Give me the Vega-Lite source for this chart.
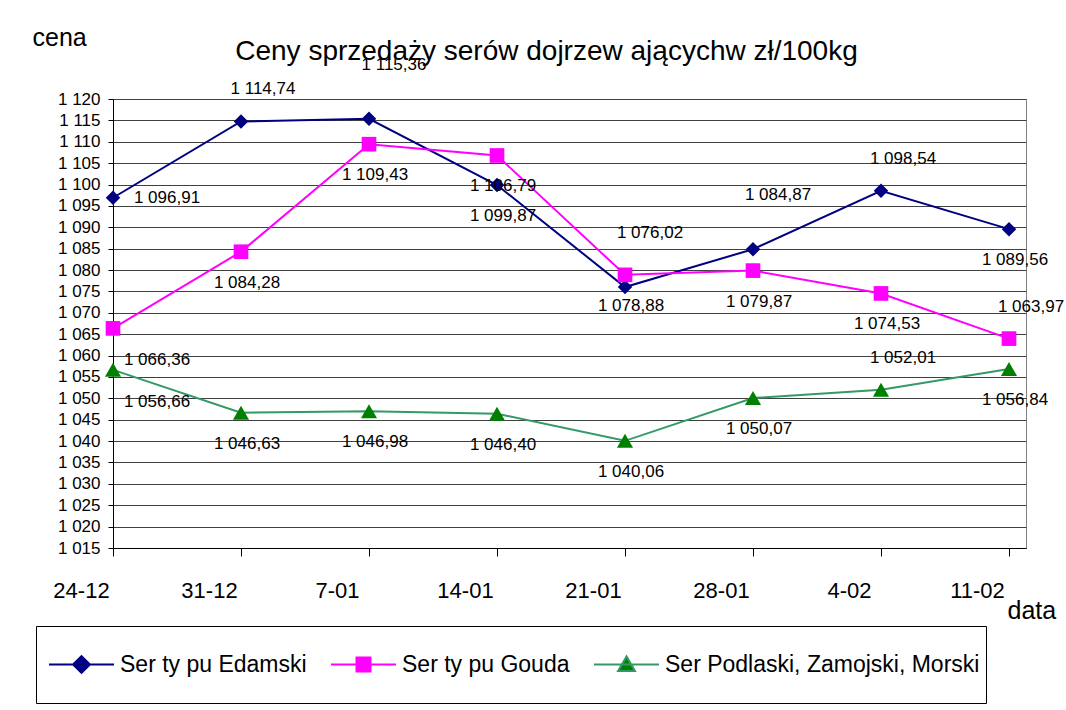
{
  "$schema": "https://vega.github.io/schema/vega-lite/v6.json",
  "width": 913,
  "height": 449,
  "autosize": {"type": "none"},
  "padding": {"left": 113, "top": 99, "right": 40, "bottom": 162},
  "background": "white",
  "config": {
    "font": "Liberation Sans",
    "locale": {"number": {"decimal": ",", "thousands": " ", "grouping": [3], "currency": ["", ""]}},
    "view": {"stroke": "#808080", "strokeWidth": 1}
  },
  "title": {
    "text": "Ceny sprzedaży serów  dojrzew ającychw  zł/100kg",
    "fontSize": 28,
    "fontWeight": "normal",
    "color": "black",
    "anchor": "middle",
    "frame": "group",
    "dx": -23,
    "dy": 63,
    "baseline": "alphabetic",
    "offset": 0
  },
  "data": {
    "values": [
      {"date": "24-12", "series": "Ser ty pu Edamski", "value": 1096.91},
      {"date": "31-12", "series": "Ser ty pu Edamski", "value": 1114.74},
      {"date": "7-01", "series": "Ser ty pu Edamski", "value": 1115.36},
      {"date": "14-01", "series": "Ser ty pu Edamski", "value": 1099.87},
      {"date": "21-01", "series": "Ser ty pu Edamski", "value": 1076.02},
      {"date": "28-01", "series": "Ser ty pu Edamski", "value": 1084.87},
      {"date": "4-02", "series": "Ser ty pu Edamski", "value": 1098.54},
      {"date": "11-02", "series": "Ser ty pu Edamski", "value": 1089.56},
      {"date": "24-12", "series": "Ser ty pu Gouda", "value": 1066.36},
      {"date": "31-12", "series": "Ser ty pu Gouda", "value": 1084.28},
      {"date": "7-01", "series": "Ser ty pu Gouda", "value": 1109.43},
      {"date": "14-01", "series": "Ser ty pu Gouda", "value": 1106.79},
      {"date": "21-01", "series": "Ser ty pu Gouda", "value": 1078.88},
      {"date": "28-01", "series": "Ser ty pu Gouda", "value": 1079.87},
      {"date": "4-02", "series": "Ser ty pu Gouda", "value": 1074.53},
      {"date": "11-02", "series": "Ser ty pu Gouda", "value": 1063.97},
      {"date": "24-12", "series": "Ser Podlaski, Zamojski, Morski", "value": 1056.66},
      {"date": "31-12", "series": "Ser Podlaski, Zamojski, Morski", "value": 1046.63},
      {"date": "7-01", "series": "Ser Podlaski, Zamojski, Morski", "value": 1046.98},
      {"date": "14-01", "series": "Ser Podlaski, Zamojski, Morski", "value": 1046.40},
      {"date": "21-01", "series": "Ser Podlaski, Zamojski, Morski", "value": 1040.06},
      {"date": "28-01", "series": "Ser Podlaski, Zamojski, Morski", "value": 1050.07},
      {"date": "4-02", "series": "Ser Podlaski, Zamojski, Morski", "value": 1052.01},
      {"date": "11-02", "series": "Ser Podlaski, Zamojski, Morski", "value": 1056.84}
    ]
  },
  "encoding": {
    "x": {
      "field": "date",
      "type": "ordinal",
      "scale": {"type": "point", "domain": ["24-12", "31-12", "7-01", "14-01", "21-01", "28-01", "4-02", "11-02"], "padding": 0.0664, "align": 0},
      "axis": {
        "title": "data",
        "titleX": 894,
        "titleY": 70,
        "titleAlign": "left",
        "titleBaseline": "alphabetic",
        "titleFontSize": 25,
        "titleFontWeight": "normal",
        "titleColor": "black",
        "labelAngle": 0,
        "labelFontSize": 22,
        "labelColor": "black",
        "labelBaseline": "alphabetic",
        "labelPadding": 41,
        "labelOffset": -32,
        "labelFlush": false,
        "labelOverlap": false,
        "tickSize": 8,
        "tickColor": "black",
        "domainColor": "black",
        "grid": false
      }
    },
    "y": {
      "field": "value",
      "type": "quantitative",
      "scale": {"domain": [1015, 1120], "nice": false, "zero": false},
      "axis": {
        "title": "cena",
        "titleAngle": 0,
        "titleX": -81,
        "titleY": -54,
        "titleAlign": "left",
        "titleBaseline": "alphabetic",
        "titleFontSize": 25,
        "titleFontWeight": "normal",
        "titleColor": "black",
        "values": [1015, 1020, 1025, 1030, 1035, 1040, 1045, 1050, 1055, 1060, 1065, 1070, 1075, 1080, 1085, 1090, 1095, 1100, 1105, 1110, 1115, 1120],
        "format": ",d",
        "labelFontSize": 17,
        "labelColor": "black",
        "labelPadding": 8,
        "labelFlush": false,
        "labelOverlap": false,
        "tickSize": 5,
        "tickColor": "black",
        "domainColor": "black",
        "grid": true,
        "gridColor": "#404040",
        "gridOpacity": 1
      }
    }
  },
  "layer": [
    {
      "mark": {"type": "line", "strokeWidth": 2},
      "encoding": {
        "stroke": {
          "field": "series",
          "type": "nominal",
          "scale": {"domain": ["Ser ty pu Edamski", "Ser ty pu Gouda", "Ser Podlaski, Zamojski, Morski"], "range": ["#000080", "#FF00FF", "#339966"]},
          "legend": {
            "orient": "none",
            "legendX": -77,
            "legendY": 527,
            "direction": "horizontal",
            "columns": 3,
            "title": null,
            "strokeColor": "black",
            "fillColor": "white",
            "padding": 6,
            "clipHeight": 65,
            "symbolSize": 4225,
            "symbolOffset": 6,
            "symbolStrokeWidth": 2,
            "labelOffset": 5,
            "columnPadding": 17,
            "labelFontSize": 23,
            "labelColor": "black",
            "labelLimit": 500,
            "encode": {
              "symbols": {
                "update": {
                  "shape": {"signal": "datum.value === 'Ser ty pu Edamski' ? 'M-1,0H1M-0.26,0L0,-0.26L0.26,0L0,0.26Z' : datum.value === 'Ser ty pu Gouda' ? 'M-1,0H1M-0.215,-0.215H0.215V0.215H-0.215Z' : 'M-1,0H1M0,-0.25L0.26,0.2L-0.26,0.2Z'"},
                  "fill": {"signal": "datum.value === 'Ser ty pu Edamski' ? '#000080' : datum.value === 'Ser ty pu Gouda' ? '#FF00FF' : '#008000'"}
                }
              }
            }
          }
        }
      }
    },
    {
      "transform": [{"filter": "datum.series === 'Ser ty pu Edamski'"}],
      "mark": {"type": "point", "shape": "diamond", "filled": true, "fill": "#000080", "opacity": 1, "strokeWidth": 0, "size": 210},
      "encoding": {}
    },
    {
      "transform": [{"filter": "datum.series === 'Ser ty pu Gouda'"}],
      "mark": {"type": "point", "shape": "square", "filled": true, "fill": "#FF00FF", "opacity": 1, "strokeWidth": 0, "size": 215},
      "encoding": {}
    },
    {
      "transform": [{"filter": "datum.series === 'Ser Podlaski, Zamojski, Morski'"}],
      "mark": {"type": "point", "shape": "triangle-up", "filled": true, "fill": "#008000", "opacity": 1, "strokeWidth": 0, "size": 260},
      "encoding": {}
    },
    {
      "transform": [{"filter": "datum.series === 'Ser ty pu Edamski' && indexof(['7-01', '21-01', '28-01'], datum.date) >= 0"}],
      "mark": {"type": "text", "fontSize": 17, "color": "black", "align": "center", "baseline": "middle", "dx": 25, "dy": -54},
      "encoding": {"text": {"field": "value", "type": "quantitative", "format": ",.2f"}}
    },
    {
      "transform": [{"filter": "(datum.series === 'Ser ty pu Edamski' && indexof(['31-12', '4-02'], datum.date) >= 0) || (datum.series === 'Ser ty pu Gouda' && datum.date === '11-02') || (datum.series === 'Ser Podlaski, Zamojski, Morski' && datum.date === '4-02')"}],
      "mark": {"type": "text", "fontSize": 17, "color": "black", "align": "center", "baseline": "middle", "dx": 22, "dy": -32},
      "encoding": {"text": {"field": "value", "type": "quantitative", "format": ",.2f"}}
    },
    {
      "transform": [{"filter": "datum.series === 'Ser ty pu Edamski' && datum.date === '24-12'"}],
      "mark": {"type": "text", "fontSize": 17, "color": "black", "align": "center", "baseline": "middle", "dx": 54, "dy": 0},
      "encoding": {"text": {"field": "value", "type": "quantitative", "format": ",.2f"}}
    },
    {
      "transform": [{"filter": "datum.series !== 'Ser ty pu Edamski' && datum.date === '24-12'"}],
      "mark": {"type": "text", "fontSize": 17, "color": "black", "align": "center", "baseline": "middle", "dx": 44, "dy": 32},
      "encoding": {"text": {"field": "value", "type": "quantitative", "format": ",.2f"}}
    },
    {
      "transform": [{"filter": "datum.date !== '24-12' && ((datum.series === 'Ser ty pu Edamski' && indexof(['14-01', '11-02'], datum.date) >= 0) || (datum.series === 'Ser ty pu Gouda' && datum.date !== '11-02') || (datum.series === 'Ser Podlaski, Zamojski, Morski' && datum.date !== '4-02'))"}],
      "mark": {"type": "text", "fontSize": 17, "color": "black", "align": "center", "baseline": "middle", "dx": 6, "dy": 31},
      "encoding": {"text": {"field": "value", "type": "quantitative", "format": ",.2f"}}
    }
  ]
}
